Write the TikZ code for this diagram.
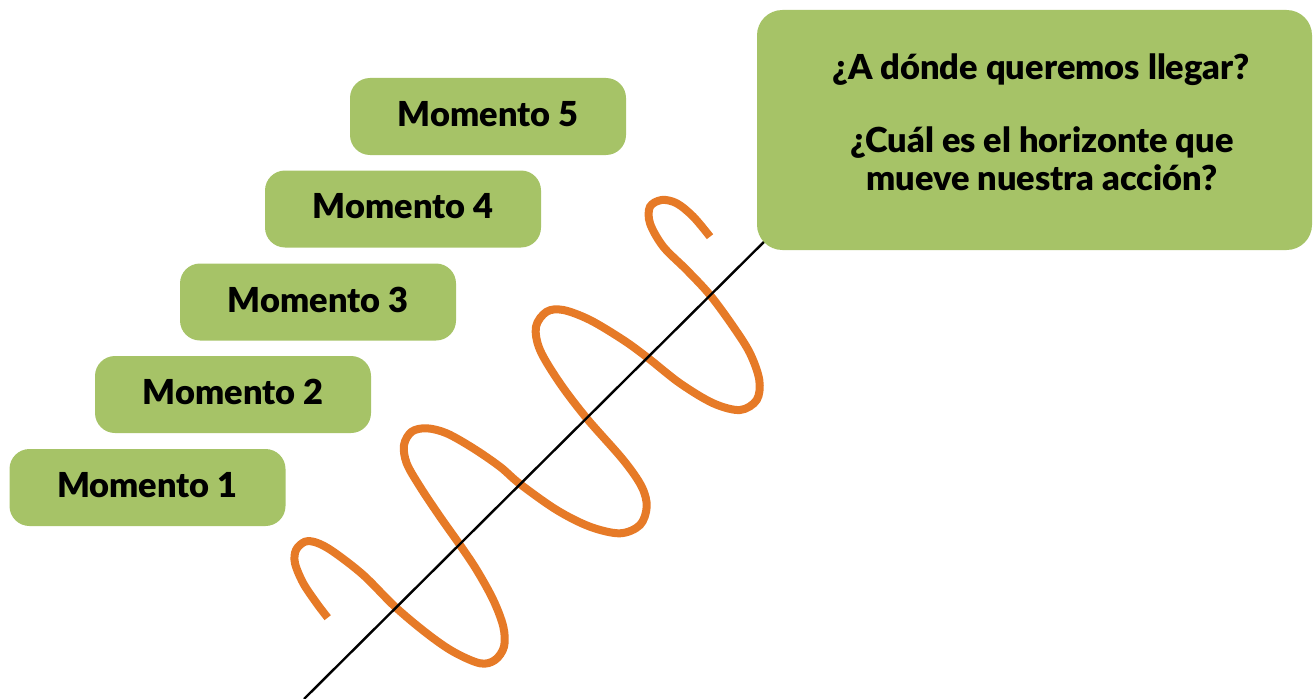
\documentclass[tikz,border=0pt]{standalone}
\usepackage{fontspec}
\setmainfont{Lato}[BoldFont={Lato Black}]
\definecolor{boxgreen}{HTML}{A6C367}
\definecolor{waveorange}{HTML}{E67A27}
\begin{document}
\begin{tikzpicture}[x=0.75pt,y=-0.75pt,
  momento/.style={fill=boxgreen, rounded corners=15pt, minimum width=207pt,
    minimum height=57.75pt, inner sep=0pt, text depth=4pt,
    font=\fontsize{25.8}{30}\selectfont\bfseries},
  bigbox/.style={fill=boxgreen, rounded corners=19pt, minimum width=416.25pt,
    minimum height=180pt, inner sep=0pt},
  qline/.style={anchor=base, inner sep=0pt, font=\fontsize{25.8}{30}\selectfont\bfseries},
  wave/.style={draw=waveorange, line width=6pt},
  axisline/.style={draw=black, line width=1.8pt}]
\useasboundingbox (0,0) rectangle (1314,699);
% orange wave
\draw[wave] plot[smooth, tension=0.55] coordinates {
(327.7,617.7) (316.7,603.3) (303.3,583.3) (295,563.3) (296,550) (305,541.7)
(316.7,542.7) (333.3,551.7) (363.3,575) (395,606.7) (426.7,633.3) (453.3,651.7)
(480,663.3) (495,660) (504,646.7) (503.3,626.7) (493.3,600) (476.7,570)
(460,545) (440,516.7) (420,486.7) (406.7,463.3) (404,445) (411.7,431.7)
(426.7,428.3) (446.7,433.3) (473.3,448.3) (500,466.7) (520,484) (556.7,510)
(590,526.7) (620,533.3) (640,525) (646.7,506.7) (641.7,486.7) (623.3,460)
(586.7,418.3) (560,383.3) (540,350) (536,326.7) (546.7,311.7) (563.3,310)
(590,320) (623.3,340) (648,358) (680,383.3) (713.3,403.3) (740,410)
(756.7,400) (759.3,380) (750,353.3) (733.3,326.7) (710,295) (686.7,270)
(663.3,246.7) (650,223.3) (650,206.7) (661.7,200) (676.7,203.3) (693.3,216.7)
(710,236.7)};
% axis line
\coordinate (lstart) at (304,699);
\coordinate (lend) at (790,216);
\draw[axisline] (lstart) -- (lend);
% boxes
\node[momento] (m1) at (147.5,487.5) {Momento 1};
\node[momento] (m2) at (233,394.5) {Momento 2};
\node[momento] (m3) at (318,302) {Momento 3};
\node[momento] (m4) at (403,209) {Momento 4};
\node[momento] (m5) at (488,116.5) {Momento 5};
\node[bigbox] (big) at (1034.5,130) {};
\node[qline] (q1) at (1041,79.5) {¿A dónde queremos llegar?};
\node[qline] (q2) at (1042,152.7) {¿Cuál es el horizonte que};
\node[qline] (q3) at (1042,190) {mueve nuestra acción?};
\end{tikzpicture}
\end{document}
